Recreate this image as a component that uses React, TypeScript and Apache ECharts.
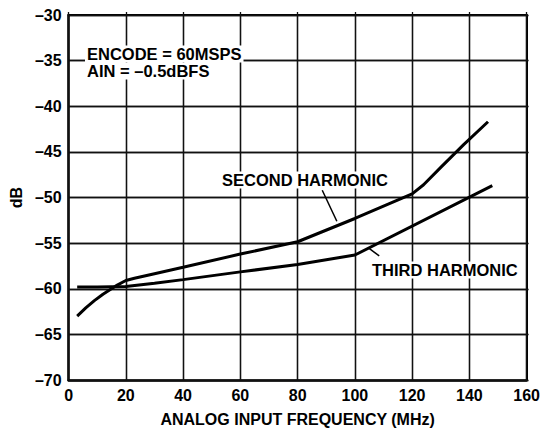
import React, { useEffect, useRef } from "react";
import * as echarts from "echarts";

const secondFreq = [3, 6, 9, 12, 17, 20, 23, 30, 40, 60, 80, 100, 120, 124, 130, 138, 146.5];
const secondDb = [-63.0, -62.1, -61.3, -60.6, -59.6, -59.1, -58.85, -58.35, -57.65, -56.2, -54.85, -52.3, -49.6, -48.6, -46.7, -44.2, -41.7];

const thirdFreq = [3, 10, 20, 30, 40, 60, 80, 100, 148];
const thirdDb = [-59.8, -59.8, -59.75, -59.4, -59.0, -58.15, -57.35, -56.3, -48.7];

const secondArrow = [[88.6, -49.2], [93.7, -52.6]];
const thirdArrow = [[108.5, -56.4], [104.6, -55.5]];

const FONT = '"Liberation Sans", Arial, Helvetica, sans-serif';

const W = 543;
const H = 432;
const G = { left: 68, right: 15, top: 15, bottom: 49 };

export default function App() {
  const ref = useRef<HTMLDivElement>(null);
  useEffect(() => {
    if (!ref.current) return;
    const chart = echarts.init(ref.current, null, { renderer: "svg" });
    const dash = (v: number) => String(v).replace("-", "\u2013");
    const labelFont = { color: "#000", fontSize: 16, fontWeight: "bold", fontFamily: FONT };
    const plotW = W - G.left - G.right;
    const plotH = H - G.top - G.bottom;
    const gridLine = { show: true, lineStyle: { color: "#111111", width: 1.3, type: "solid", opacity: 1 } };
    const textStyle = (text: string, x: number, y: number) => ({
      type: "text",
      x,
      y,
      z: 100,
      style: {
        text,
        fill: "#000",
        fontSize: 16.5,
        fontWeight: "bold",
        fontFamily: FONT,
        verticalAlign: "middle",
        backgroundColor: "#fff",
        padding: [0, 2, 0, 2],
      },
    });
    chart.setOption({
      animation: false,
      grid: G,
      xAxis: [
        {
          type: "value",
          min: 0,
          max: 160,
          interval: 20,
          position: "bottom",
          name: "ANALOG INPUT FREQUENCY (MHz)",
          nameLocation: "middle",
          nameGap: 31,
          nameTextStyle: labelFont,
          axisLine: { show: true, onZero: false, lineStyle: { color: "#000", width: 2.5 } },
          axisTick: { show: true, inside: true, length: plotH, lineStyle: { color: "#111111", width: 1.3 } },
          axisLabel: { ...labelFont, margin: 7 },
          splitLine: gridLine,
        },
        {
          type: "value",
          min: 0,
          max: 160,
          interval: 20,
          position: "top",
          axisLine: { show: true, onZero: false, lineStyle: { color: "#000", width: 2 } },
          axisTick: { show: false },
          axisLabel: { show: false },
          splitLine: { show: false },
        },
      ],
      yAxis: [
        {
          type: "value",
          min: -70,
          max: -30,
          interval: 5,
          position: "left",
          name: "dB",
          nameLocation: "middle",
          nameGap: 42,
          nameTextStyle: labelFont,
          axisLine: { show: true, onZero: false, lineStyle: { color: "#000", width: 2.5 } },
          axisTick: { show: true, inside: true, length: plotW, lineStyle: { color: "#111111", width: 1.3 } },
          axisLabel: { ...labelFont, margin: 7, formatter: dash },
          splitLine: gridLine,
        },
        {
          type: "value",
          min: -70,
          max: -30,
          interval: 5,
          position: "right",
          axisLine: { show: true, onZero: false, lineStyle: { color: "#000", width: 2 } },
          axisTick: { show: false },
          axisLabel: { show: false },
          splitLine: { show: false },
        },
      ],
      series: [
        {
          type: "line",
          name: "SECOND HARMONIC",
          data: secondFreq.map((f, i) => [f, secondDb[i]]),
          showSymbol: false,
          lineStyle: { color: "#000", width: 3 },
          markLine: {
            silent: true,
            symbol: ["none", "arrow"],
            symbolSize: [0, 9],
            lineStyle: { color: "#000", width: 1.5, type: "solid" },
            label: { show: false },
            data: [[{ coord: secondArrow[0] }, { coord: secondArrow[1] }]],
          },
        },
        {
          type: "line",
          name: "THIRD HARMONIC",
          data: thirdFreq.map((f, i) => [f, thirdDb[i]]),
          showSymbol: false,
          lineStyle: { color: "#000", width: 3 },
          markLine: {
            silent: true,
            symbol: ["none", "arrow"],
            symbolSize: [0, 9],
            lineStyle: { color: "#000", width: 1.5, type: "solid" },
            label: { show: false },
            data: [[{ coord: thirdArrow[0] }, { coord: thirdArrow[1] }]],
          },
        },
      ],
      graphic: [
        textStyle("ENCODE = 60MSPS", 85, 54),
        textStyle("AIN = \u20130.5dBFS", 85, 71),
        textStyle("SECOND HARMONIC", 220, 180),
        textStyle("THIRD HARMONIC", 370, 270),
      ],
    });
    return () => chart.dispose();
  }, []);
  return (
    <div
      ref={ref}
      style={{ position: "fixed", left: 0, top: 0, width: W, height: H, background: "#fff" }}
    />
  );
}
